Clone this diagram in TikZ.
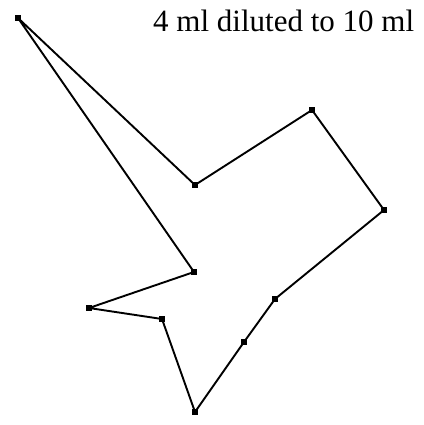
\documentclass[tikz,border=0pt]{standalone}
\usepackage{fontspec}
\setmainfont{Liberation Serif}
\usetikzlibrary{positioning}

\begin{document}
\begin{tikzpicture}[
    x=1pt, y=-1pt,
    pt/.style={rectangle, fill=black, inner sep=0pt, minimum size=6pt},
    edge/.style={line width=1.9pt, line join=round}
]
\useasboundingbox (0,0) rectangle (423,425);

% Nodes
\node[pt] (p1) at (18,18) {};
\node[pt] (p2) at (195,185) {};
\node[pt] (p3) at (312,110) {};
\node[pt] (p4) at (384,210) {};
\node[pt] (p5) at (275,299) {};
\node[pt] (p6) at (244,342) {};
\node[pt] (p7) at (195,412) {};
\node[pt] (p8) at (162,319) {};
\node[pt] (p9) at (89,308) {};
\node[pt] (p10) at (194,272) {};

% Label
\node[anchor=base west, inner sep=0pt, font=\fontsize{31}{33}\selectfont] (lbl) at (153,32) {4 ml diluted to 10 ml};

% Edges
\draw[edge] (p1.center) -- (p2.center) -- (p3.center) -- (p4.center) -- (p5.center)
    -- (p6.center) -- (p7.center) -- (p8.center) -- (p9.center) -- (p10.center) -- cycle;

\end{tikzpicture}
\end{document}
